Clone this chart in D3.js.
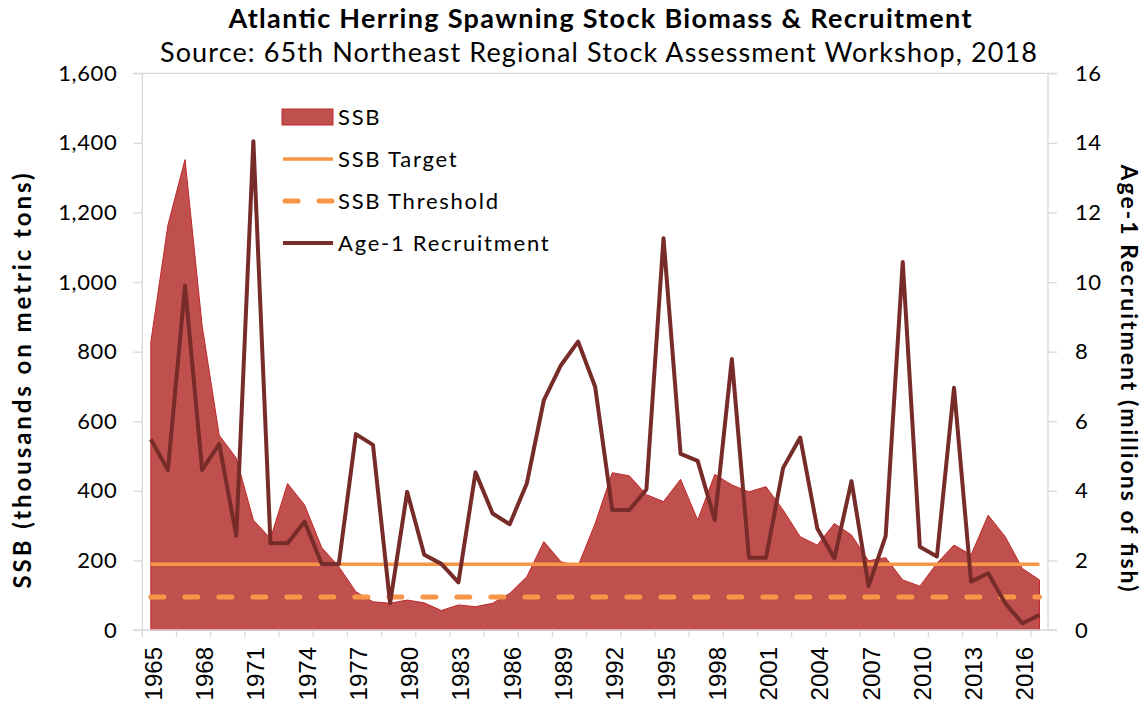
<!DOCTYPE html>
<meta charset="utf-8">
<style>
  body { margin: 0; background: #fff; }
  text { font-family: Lato, "Noto Sans", sans-serif; fill: #000; }
</style>
<svg width="1145" height="704"></svg>
<script src="https://d3js.org/d3.v7.min.js"></script>
<script>

var years = d3.range(1965, 2018)

// SSB, thousands of metric tons
var ssb = [828, 1164, 1352, 875, 560, 494, 316, 263, 421, 359,
           237, 182, 110, 81, 77, 86, 78, 56, 72, 67,
           77, 105, 153, 254, 196, 184, 306, 452, 443, 389,
           369, 433, 316, 447, 417, 397, 412, 345, 268, 244,
           306, 273, 199, 208, 144, 126, 192, 244, 216, 330,
           268, 177, 144]

// age-1 recruitment, millions of fish
var recruit = [5.48, 4.6, 9.9, 4.6, 5.34, 2.71, 14.05, 2.49, 2.49, 3.11,
               1.9, 1.9, 5.63, 5.32, 0.77, 3.97, 2.16, 1.9, 1.37, 4.53,
               3.35, 3.04, 4.21, 6.61, 7.61, 8.29, 6.99, 3.45, 3.45, 4.04,
               11.26, 5.06, 4.86, 3.16, 7.79, 2.08, 2.08, 4.66, 5.53, 2.92,
               2.06, 4.28, 1.26, 2.7, 10.58, 2.39, 2.11, 6.96, 1.39, 1.63,
               0.77, 0.19, 0.43]

var ssbTarget = 189
var ssbThreshold = 94.5

var leftTicks = d3.range(0, 1601, 200)
var rightTicks = d3.range(0, 17, 2)
var labelYears = d3.range(1965, 2018, 3)

var legendItems = ['SSB', 'SSB Target', 'SSB Threshold', 'Age-1 Recruitment']

var svg = d3.select('svg')
var pLeft = 142.3, pRight = 1048, pTop = 73.3, pBottom = 630

var x = d3.scaleBand().domain(years).range([pLeft, pRight]).paddingInner(0).paddingOuter(0)
var bw = x.bandwidth()
function cx(yr) { return x(yr) + bw / 2 }

var y = d3.scaleLinear().domain([0, 1600]).range([pBottom, pTop])
var y2 = d3.scaleLinear().domain([0, 16]).range([pBottom, pTop])

var axisColor = '#d9d9d9'

// SSB area
var area = d3.area()
    .x(function (d, i) { return cx(years[i]) })
    .y0(y(0))
    .y1(function (d) { return y(d) })

svg.append('path')
    .datum(ssb)
    .attr('d', area)
    .attr('fill', '#c0504d')
    .attr('stroke', '#c0282a')
    .attr('stroke-width', 1)

// reference lines
svg.append('line')
    .attr('x1', cx(1965)).attr('x2', cx(2017))
    .attr('y1', y(ssbTarget)).attr('y2', y(ssbTarget))
    .attr('stroke', '#f79646').attr('stroke-width', 3.5)

svg.append('line')
    .attr('x1', cx(1965)).attr('x2', cx(2017))
    .attr('y1', y(ssbThreshold)).attr('y2', y(ssbThreshold))
    .attr('stroke', '#f79646').attr('stroke-width', 5)
    .attr('stroke-dasharray', '13,21')
    .attr('stroke-linecap', 'round')

// recruitment
var line = d3.line()
    .x(function (d, i) { return cx(years[i]) })
    .y(function (d) { return y2(d) })

svg.append('path')
    .datum(recruit)
    .attr('d', line)
    .attr('fill', 'none')
    .attr('stroke', '#772c2a')
    .attr('stroke-width', 4)
    .attr('stroke-linejoin', 'round')

// axes
var leftAxis = svg.append('g').attr('transform', 'translate(' + pLeft + ',0)')
    .call(d3.axisLeft(y).tickValues(leftTicks).tickSize(9).tickPadding(16).tickFormat(d3.format(',')))
var rightAxis = svg.append('g').attr('transform', 'translate(' + pRight + ',0)')
    .call(d3.axisRight(y2).tickValues(rightTicks).tickSize(9).tickPadding(18))

var tickYears = years.filter(function (d, i) { return i % 2 === 0 })
var bottomAxis = svg.append('g').attr('transform', 'translate(0,' + pBottom + ')')
    .call(d3.axisBottom(x).tickValues(tickYears).tickSize(7).tickFormat(''))
bottomAxis.selectAll('.tick').attr('transform', function (d) { return 'translate(' + x(d) + ',0)' })

;[leftAxis, rightAxis, bottomAxis].forEach(function (g) {
    g.select('.domain').remove()
    g.selectAll('line').attr('stroke', axisColor).attr('stroke-width', 1.3)
    g.selectAll('text').style('font-size', '22px').style('letter-spacing', '0.6px').attr('fill', '#000')
})

// frame lines
svg.append('line').attr('x1', pLeft).attr('x2', pLeft).attr('y1', pTop).attr('y2', pBottom)
    .attr('stroke', axisColor).attr('stroke-width', 1.3)
svg.append('line').attr('x1', pRight).attr('x2', pRight).attr('y1', pTop).attr('y2', pBottom)
    .attr('stroke', axisColor).attr('stroke-width', 1.3)
svg.append('line').attr('x1', pLeft - 9).attr('x2', pRight + 9).attr('y1', pTop).attr('y2', pTop)
    .attr('stroke', axisColor).attr('stroke-width', 1.3)
svg.append('line').attr('x1', pLeft - 9).attr('x2', pRight + 9).attr('y1', pBottom).attr('y2', pBottom)
    .attr('stroke', axisColor).attr('stroke-width', 1.3)

// x labels
svg.append('g').selectAll('text')
    .data(labelYears)
    .enter().append('text')
    .attr('transform', function (d) { return 'translate(' + (cx(d) + 11) + ',647) rotate(-90)' })
    .attr('text-anchor', 'end')
    .style('font-family', '"Liberation Sans", Arial, sans-serif')
    .style('font-size', '24px')
    .text(function (d) { return d })

// titles
svg.append('text')
    .attr('x', 600).attr('y', 28)
    .attr('text-anchor', 'middle')
    .attr('textLength', 743).attr('lengthAdjust', 'spacing')
    .style('font-size', '27px').style('font-weight', 'bold')
    .text('Atlantic Herring Spawning Stock Biomass & Recruitment')

svg.append('text')
    .attr('x', 598.5).attr('y', 62)
    .attr('text-anchor', 'middle')
    .attr('textLength', 877).attr('lengthAdjust', 'spacing')
    .style('font-size', '27px')
    .text('Source: 65th Northeast Regional Stock Assessment Workshop, 2018')

svg.append('text')
    .attr('transform', 'translate(31,381) rotate(-90)')
    .attr('text-anchor', 'middle')
    .attr('textLength', 415).attr('lengthAdjust', 'spacing')
    .style('font-size', '24px').style('font-weight', 'bold')
    .text('SSB (thousands on metric tons)')

svg.append('text')
    .attr('transform', 'translate(1121,378) rotate(90)')
    .attr('text-anchor', 'middle')
    .attr('textLength', 427).attr('lengthAdjust', 'spacing')
    .style('font-size', '23px').style('font-weight', 'bold')
    .text('Age-1 Recruitment (millions of fish)')

// legend
var lg = svg.append('g').attr('transform', 'translate(282,117)')
var rowH = 42
lg.append('rect').attr('x', 0).attr('y', -8).attr('width', 51).attr('height', 16)
    .attr('fill', '#c0504d').attr('stroke', '#c0282a').attr('stroke-width', 1)
lg.append('line').attr('x1', 1).attr('x2', 51).attr('y1', rowH).attr('y2', rowH)
    .attr('stroke', '#f79646').attr('stroke-width', 3.5)
lg.append('line').attr('x1', 3).attr('x2', 51).attr('y1', rowH * 2).attr('y2', rowH * 2)
    .attr('stroke', '#f79646').attr('stroke-width', 5)
    .attr('stroke-dasharray', '13,21').attr('stroke-linecap', 'round')
lg.append('line').attr('x1', 1).attr('x2', 51).attr('y1', rowH * 3).attr('y2', rowH * 3)
    .attr('stroke', '#772c2a').attr('stroke-width', 4)
lg.selectAll('text.lbl')
    .data(legendItems)
    .enter().append('text')
    .attr('class', 'lbl')
    .attr('x', 56)
    .attr('y', function (d, i) { return i * rowH + 8 })
    .style('font-size', '22px')
    .style('letter-spacing', '1.75px')
    .text(function (d) { return d })

</script>
